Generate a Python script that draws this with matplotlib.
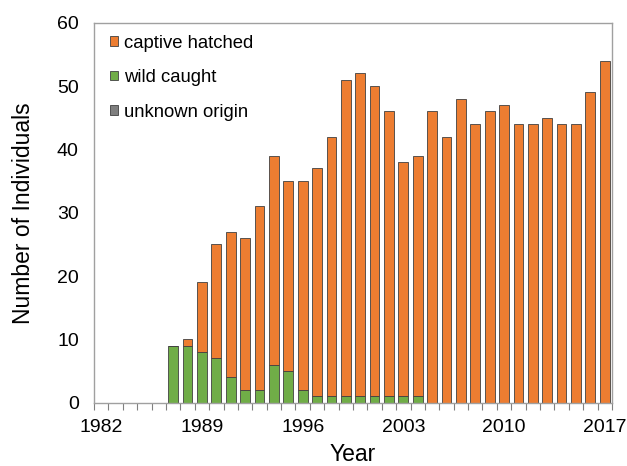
import numpy as np
import matplotlib.pyplot as plt

plt.rcParams['font.family'] = ['Liberation Sans', 'DejaVu Sans']

years = list(range(1982, 2018))
wild = [0, 0, 0, 0, 0, 9, 9, 8, 7, 4, 2, 2, 6, 5, 2, 1, 1, 1, 1, 1, 1, 1, 1,
        0, 0, 0, 0, 0, 0, 0, 0, 0, 0, 0, 0, 0]
total = [0, 0, 0, 0, 0, 9, 10, 19, 25, 27, 26, 31, 39, 35, 35, 37, 42, 51, 52, 50, 46, 38, 39,
         46, 42, 48, 44, 46, 47, 44, 44, 45, 44, 44, 49, 54]
unknown = [0] * len(years)
captive = [t - w - u for t, w, u in zip(total, wild, unknown)]
tick_years = [1982, 1989, 1996, 2003, 2010, 2017]

orange = '#ED7D31'
green = '#70AD47'
grey = '#7F7F7F'
edge = '#404040'

fig = plt.figure(figsize=(6.27, 4.66), dpi=100)
ax = fig.add_axes([0.150, 0.136, 0.826, 0.815])

x = np.arange(len(years)) + 0.5
w = 0.68
ax.bar(x, unknown, w, color=grey, edgecolor=edge, linewidth=0.6, label='unknown origin')
ax.bar(x, wild, w, bottom=unknown, color=green, edgecolor=edge, linewidth=0.6, label='wild caught')
ax.bar(x, captive, w, bottom=np.array(unknown) + np.array(wild), color=orange,
       edgecolor=edge, linewidth=0.6, label='captive hatched')

ax.set_xlim(0, len(years))
ax.set_ylim(0, 60)
ax.set_yticks(range(0, 61, 10))
ax.tick_params(axis='y', length=0, labelsize=14, pad=11)

ax.set_xticks(np.arange(0, len(years) + 1), minor=True)
ax.set_xticks([years.index(y) + 0.5 for y in tick_years])
ax.set_xticklabels([str(y) for y in tick_years])
ax.tick_params(axis='x', which='major', length=0, labelsize=14, pad=12)
ax.tick_params(axis='x', which='minor', length=5, width=0.8, color='#808080', direction='out')

for s in ax.spines.values():
    s.set_color('#a0a0a0')
    s.set_linewidth(1.0)

ax.set_xlabel('Year', fontsize=16.5, labelpad=5)
ax.set_ylabel('Number of Individuals', fontsize=16.5, labelpad=16)

h, l = ax.get_legend_handles_labels()
ax.legend(h[::-1], l[::-1], loc='upper left', frameon=False, fontsize=13.3,
          handlelength=0.42, handleheight=0.42, handletextpad=0.35,
          labelspacing=0.95, bbox_to_anchor=(-0.001, 1.013), borderaxespad=0.5)

fig.savefig('out.png', dpi=100)
